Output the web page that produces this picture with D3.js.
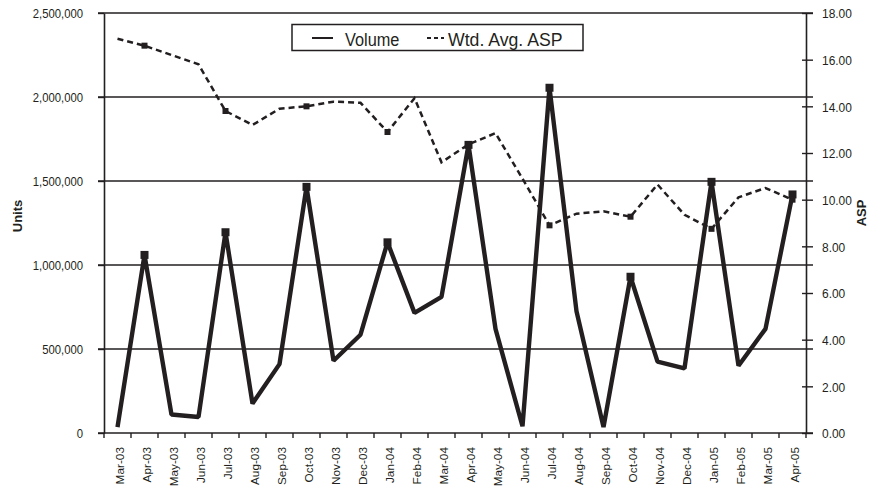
<!DOCTYPE html>
<html>
<head>
<meta charset="utf-8">
<script src="https://cdn.jsdelivr.net/npm/d3@7"></script>
<style>
  html, body { margin: 0; padding: 0; background: #fff; }
  svg { display: block; }
  text { font-family: "Liberation Sans", Arial, sans-serif; fill: #231f20; }
</style>
</head>
<body>
<svg id="chart" width="870" height="491"></svg>
<script>
// Monthly categories, Mar-03 .. Apr-05
const months = ["Mar-03","Apr-03","May-03","Jun-03","Jul-03","Aug-03","Sep-03","Oct-03","Nov-03","Dec-03",
  "Jan-04","Feb-04","Mar-04","Apr-04","May-04","Jun-04","Jul-04","Aug-04","Sep-04","Oct-04","Nov-04","Dec-04",
  "Jan-05","Feb-05","Mar-05","Apr-05"];

// Unit volume per month (left axis)
const volume = [35000, 1060000, 110000, 95000, 1195000, 175000, 410000, 1465000, 430000, 585000,
  1135000, 715000, 810000, 1715000, 620000, 40000, 2055000, 725000, 35000, 930000, 425000, 385000,
  1495000, 400000, 620000, 1420000];

// Weighted average selling price per month (right axis)
const asp = [16.9, 16.6, 16.2, 15.8, 13.8, 13.2, 13.9, 14.0, 14.2, 14.15,
  12.9, 14.35, 11.6, 12.37, 12.85, 10.9, 8.9, 9.4, 9.5, 9.27, 10.65, 9.35,
  8.75, 10.1, 10.5, 10.0];

// Axis ticks
const unitTicks = [0, 500000, 1000000, 1500000, 2000000, 2500000];
const aspTicks = [0, 2, 4, 6, 8, 10, 12, 14, 16, 18];

// Quarter months carry square markers
const markerMonths = ["Apr-03","Jul-03","Oct-03","Jan-04","Apr-04","Jul-04","Oct-04","Jan-05","Apr-05"];

const ink = "#231f20";
const svg = d3.select("#chart");
const plotL = 104, plotR = 806, plotT = 13, plotB = 433;

const x = d3.scaleBand().domain(months).range([plotL, plotR]).padding(0);
const yL = d3.scaleLinear().domain([0, 2500000]).range([plotB, plotT]);
const yR = d3.scaleLinear().domain([0, 18]).range([plotB, plotT]);
const cx = m => x(m) + x.bandwidth() / 2;

// Horizontal gridlines at the left-axis ticks
svg.append("g").selectAll("line")
  .data(unitTicks.filter(d => d > 0))
  .join("line")
  .attr("x1", plotL - 6).attr("x2", plotR + 7)
  .attr("y1", d => yL(d)).attr("y2", d => yL(d))
  .attr("stroke", ink).attr("stroke-width", 1.4);

// Left axis (condensed labels)
const axL = svg.append("g").attr("transform", `translate(${plotL},0)`)
  .call(d3.axisLeft(yL).tickValues(unitTicks).tickFormat(d3.format(",")).tickSize(6).tickSizeOuter(0));
axL.select(".domain").attr("stroke", ink).attr("stroke-width", 1.6);
axL.selectAll(".tick line").attr("stroke", ink).attr("stroke-width", 1.4);
axL.selectAll(".tick text").attr("x", null).attr("dy", "0.36em")
  .attr("transform", "translate(-21,0) scale(0.87,1)")
  .attr("font-size", 13).attr("fill", ink).style("font-family", null);

// Right axis (ticks cross the axis line)
const axR = svg.append("g").attr("transform", `translate(${plotR},0)`)
  .call(d3.axisRight(yR).tickValues(aspTicks).tickFormat(d3.format(".2f")).tickSize(7).tickSizeOuter(0));
axR.select(".domain").attr("stroke", ink).attr("stroke-width", 1.6);
axR.selectAll(".tick line").attr("x1", -4).attr("stroke", ink).attr("stroke-width", 1.4);
axR.selectAll(".tick text").attr("x", null).attr("dy", "0.36em")
  .attr("transform", "translate(16,0) scale(0.92,1)")
  .attr("font-size", 13).attr("fill", ink).style("font-family", null);

// Bottom axis: tick marks on category boundaries, labels rotated at centres
const gx = svg.append("g");
gx.append("line").attr("x1", plotL - 6).attr("x2", plotR + 7).attr("y1", plotB).attr("y2", plotB)
  .attr("stroke", ink).attr("stroke-width", 1.6);
const boundaries = months.map(m => x(m)).concat([plotR]);
gx.selectAll("line.tk").data(boundaries).join("line").attr("class", "tk")
  .attr("x1", d => d).attr("x2", d => d)
  .attr("y1", plotB).attr("y2", plotB + 5)
  .attr("stroke", ink).attr("stroke-width", 1.4);
gx.selectAll("text").data(months).join("text")
  .attr("transform", d => `translate(${cx(d) + 6.5},${plotB + 14}) rotate(-90)`)
  .attr("text-anchor", "end")
  .attr("font-size", 11.8)
  .text(d => d);

// Axis titles
svg.append("text").attr("transform", "translate(22,216) rotate(-90)")
  .attr("text-anchor", "middle").attr("font-weight", "bold").attr("font-size", 13).text("Units");
svg.append("text").attr("transform", "translate(866,213) rotate(-90)")
  .attr("text-anchor", "middle").attr("font-weight", "bold").attr("font-size", 13).text("ASP");

// Volume line
const volLine = d3.line().x((d, i) => cx(months[i])).y(d => yL(d));
svg.append("path").datum(volume)
  .attr("d", volLine).attr("fill", "none")
  .attr("stroke", ink).attr("stroke-width", 4.4).attr("stroke-linejoin", "bevel");

// ASP dashed line
const aspLine = d3.line().x((d, i) => cx(months[i])).y(d => yR(d));
svg.append("path").datum(asp)
  .attr("d", aspLine).attr("fill", "none")
  .attr("stroke", ink).attr("stroke-width", 2.5).attr("stroke-dasharray", "6,4");

// Markers
const mIdx = months.map((m, i) => i).filter(i => markerMonths.includes(months[i]));
svg.append("g").selectAll("rect").data(mIdx).join("rect")
  .attr("x", i => cx(months[i]) - 4).attr("y", i => yL(volume[i]) - 4)
  .attr("width", 8).attr("height", 8).attr("fill", ink);
svg.append("g").selectAll("rect").data(mIdx).join("rect")
  .attr("x", i => cx(months[i]) - 3).attr("y", i => yR(asp[i]) - 3)
  .attr("width", 6).attr("height", 6).attr("fill", ink);

// Legend
const lg = svg.append("g");
lg.append("rect").attr("x", 292).attr("y", 24.5).attr("width", 291).attr("height", 26)
  .attr("fill", "#fff").attr("stroke", ink).attr("stroke-width", 1.5);
lg.append("line").attr("x1", 312).attr("x2", 333).attr("y1", 38).attr("y2", 38)
  .attr("stroke", ink).attr("stroke-width", 2);
lg.append("text").attr("transform", "translate(345,45.5) scale(0.86,1)").attr("font-size", 19).text("Volume");
lg.append("line").attr("x1", 427).attr("x2", 444).attr("y1", 38).attr("y2", 38)
  .attr("stroke", ink).attr("stroke-width", 2).attr("stroke-dasharray", "4,3");
lg.append("text").attr("transform", "translate(448,45.5) scale(0.93,1)").attr("font-size", 19).text("Wtd. Avg. ASP");
</script>
</body>
</html>
